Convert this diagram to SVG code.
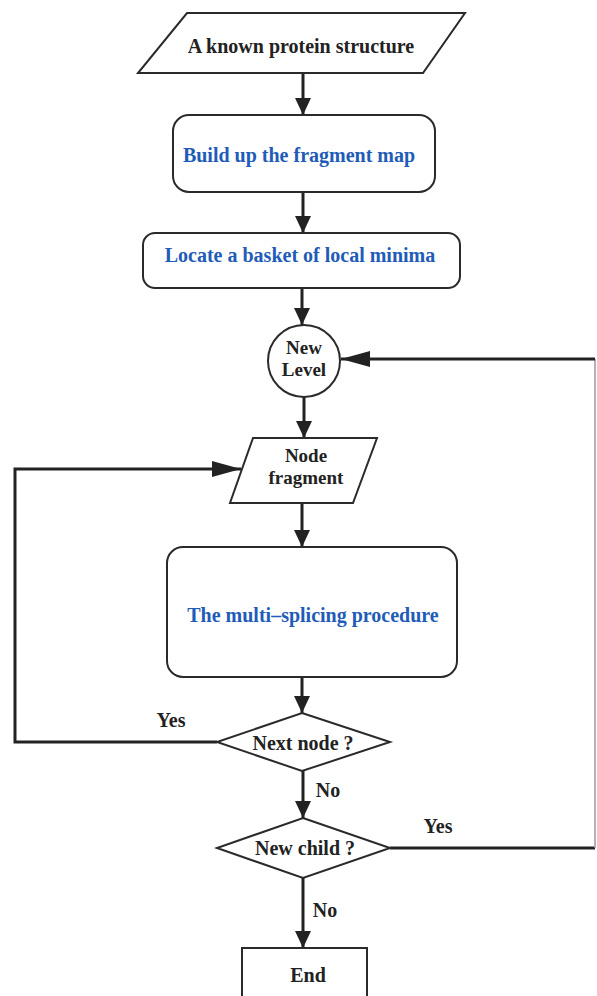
<svg xmlns="http://www.w3.org/2000/svg" width="597" height="996" viewBox="0 0 597 996">
<style>
.shape{fill:#ffffff;stroke:#2a2a2a;stroke-width:2}
.conn{fill:none;stroke:#222;stroke-width:3}
.faint{fill:none;stroke:#9a9a9a;stroke-width:1.5}
.t{font-family:"Liberation Serif","Times New Roman",serif;font-weight:bold;font-size:20px;fill:#222;text-anchor:middle}
.s{font-size:19px}
.b{fill:#1f5cb8}
</style>
<defs>
<marker id="av" markerUnits="userSpaceOnUse" markerWidth="18" markerHeight="18" viewBox="0 0 18 18" refX="17" refY="9" orient="auto">
<path d="M0,1 L17,9 L0,17 Z" fill="#222"/>
</marker>
<marker id="ah" markerUnits="userSpaceOnUse" markerWidth="30" markerHeight="18" viewBox="0 0 30 18" refX="29" refY="9" orient="auto">
<path d="M0,1 L29,9 L0,17 Z" fill="#222"/>
</marker>
</defs>
<rect width="597" height="996" fill="#ffffff"/>
<g id="connectors">
<line class="conn" x1="303" y1="73" x2="303" y2="115" marker-end="url(#av)"/>
<line class="conn" x1="303" y1="192" x2="303" y2="233" marker-end="url(#av)"/>
<line class="conn" x1="302" y1="288" x2="302" y2="325" marker-end="url(#av)"/>
<line class="conn" x1="304" y1="397" x2="304" y2="438" marker-end="url(#av)"/>
<line class="conn" x1="302" y1="503" x2="302" y2="547" marker-end="url(#av)"/>
<line class="conn" x1="302" y1="677" x2="302" y2="713" marker-end="url(#av)"/>
<line class="conn" x1="303" y1="771" x2="303" y2="818" marker-end="url(#av)"/>
<line class="conn" x1="303" y1="878" x2="303" y2="948" marker-end="url(#av)"/>
<polyline class="conn" points="217,742 15,742 15,469 241,469" marker-end="url(#ah)"/>
<line class="conn" x1="390" y1="848" x2="595" y2="848"/>
<line class="faint" x1="595" y1="359" x2="595" y2="848"/>
<line class="conn" x1="595" y1="359" x2="341" y2="359" marker-end="url(#ah)"/>
</g>
<g id="start">
<polygon class="shape" points="187,13 465,13 423,73 138,73"/>
<text class="t" x="301" y="53">A known protein structure</text>
</g>
<g id="fragment-map">
<rect class="shape" x="173" y="115" width="262" height="77" rx="16"/>
<text class="t b" x="299" y="162">Build up the fragment map</text>
</g>
<g id="local-minima">
<rect class="shape" x="143" y="233" width="317" height="55" rx="12"/>
<text class="t b" x="300" y="262">Locate a basket of local minima</text>
</g>
<g id="new-level">
<circle class="shape" cx="304" cy="361" r="36"/>
<text class="t s" x="304" y="354">New</text>
<text class="t s" x="304" y="376">Level</text>
</g>
<g id="node-fragment">
<polygon class="shape" points="253,438 377,438 353,503 230,503"/>
<text class="t s" x="306" y="462">Node</text>
<text class="t s" x="306" y="484">fragment</text>
</g>
<g id="multi-splicing">
<rect class="shape" x="167" y="547" width="290" height="130" rx="16"/>
<text class="t b" x="313" y="622">The multi–splicing procedure</text>
</g>
<g id="next-node">
<polygon class="shape" points="302,713 390,742 302,771 217,742"/>
<text class="t" x="303" y="750">Next node ?</text>
</g>
<g id="new-child">
<polygon class="shape" points="303,818 390,848 303,878 217,848"/>
<text class="t" x="305" y="855">New child ?</text>
</g>
<g id="end">
<rect class="shape" x="242" y="948" width="125" height="60"/>
<text class="t" x="308" y="982">End</text>
</g>
<g id="labels">
<text class="t" x="171" y="727">Yes</text>
<text class="t" x="328" y="797">No</text>
<text class="t" x="438" y="833">Yes</text>
<text class="t" x="325" y="917">No</text>
</g>
</svg>
